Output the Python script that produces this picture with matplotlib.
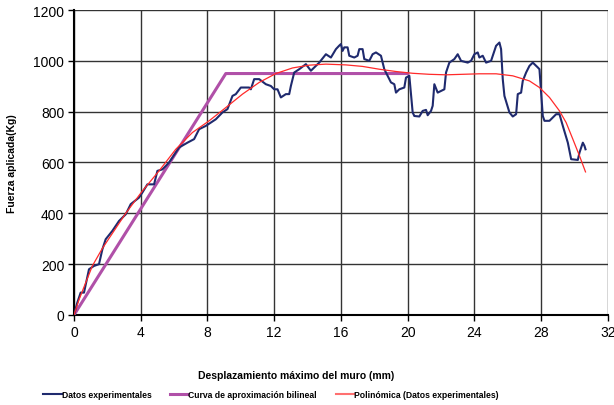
import matplotlib.pyplot as plt

plt.rcParams['font.family'] = ['Liberation Sans', 'DejaVu Sans']

# experimental data (displacement mm, force kg)
expX = [0, 0.2, 0.4, 0.6, 0.9, 1.2, 1.5, 1.7, 1.9, 2.3, 2.7, 3.1, 3.4, 3.9, 4.1, 4.4, 4.8, 5.0, 5.3, 5.7,
        6.3, 6.8, 7.2, 7.5, 7.9, 8.5, 8.9, 9.2, 9.5, 9.7, 10.0, 10.5, 10.6, 10.8, 11.1, 11.5, 11.8, 12.0,
        12.2, 12.4, 12.7, 12.9, 13.0, 13.2, 13.5, 13.9, 14.2, 14.5, 14.7, 15.1, 15.4, 15.7, 15.9, 16.0,
        16.1, 16.2, 16.4, 16.5, 16.8, 17.0, 17.1, 17.3, 17.4, 17.7, 17.9, 18.1, 18.4, 18.6, 18.8, 19.0,
        19.2, 19.3, 19.5, 19.8, 19.9, 20.1, 20.2, 20.3, 20.4, 20.7, 20.9, 21.1, 21.2, 21.4, 21.5, 21.6,
        21.8, 22.2, 22.3, 22.5, 22.8, 23.0, 23.2, 23.6, 23.8, 24.0, 24.2, 24.3, 24.5, 24.7, 25.0, 25.3,
        25.5, 25.6, 25.7, 25.8, 26.1, 26.3, 26.5, 26.6, 26.8, 26.9, 27.1, 27.3, 27.5, 27.8, 27.9, 28.1,
        28.2, 28.5, 28.9, 29.1, 29.3, 29.6, 29.8, 30.2, 30.3, 30.5, 30.6, 30.66]
expY = [0, 49, 88, 88, 180, 193, 200, 258, 298, 331, 370, 396, 436, 462, 482, 514, 514, 567, 573, 600,
        659, 678, 692, 731, 744, 770, 797, 810, 862, 869, 895, 895, 888, 928, 928, 908, 901, 888,
        888, 856, 869, 869, 901, 954, 967, 987, 961, 980, 993, 1026, 1013, 1046, 1060, 1066,
        1039, 1053, 1053, 1020, 1013, 1020, 1046, 1046, 1007, 1000, 1026, 1033, 1020, 967, 941, 915,
        908, 875, 888, 895, 934, 941, 869, 797, 783, 781, 803, 807, 786, 803, 823, 908,
        875, 888, 954, 993, 1007, 1026, 1000, 993, 1000, 1026, 1033, 1013, 1020, 993, 1000, 1059,
        1072, 1046, 928, 862, 797, 781, 790, 869, 875, 921, 954, 980, 993, 974, 967, 783,
        764, 764, 790, 790, 744, 678, 613, 610, 639, 678, 665, 652]

# bilinear approximation
bilX = [0, 9.1, 20.0]
bilY = [0, 950, 950]

# polynomial trendline
polyX = [0, 0.3, 0.6, 1.1, 1.7, 3.1, 4.1, 5.1, 6.1, 7.1, 8.1, 9.1, 10.1, 11.1, 12.1, 13.1, 14.1, 15.1,
         16.3, 17.3, 18.3, 19.3, 20.3, 21.3, 22.3, 23.3, 24.3, 25.3, 26.3, 27.3, 27.9, 28.5, 29.1, 29.5,
         29.9, 30.3, 30.66]
polyY = [0, 60, 110, 193, 262, 400, 488, 567, 652, 718, 764, 816, 869, 915, 950, 972, 983, 987,
         984, 978, 967, 958, 951, 947, 945, 947, 949, 949, 941, 921, 895, 856, 803, 757,
         692, 626, 563]

xTicks = [0, 4, 8, 12, 16, 20, 24, 28, 32]
yTicks = [0, 200, 400, 600, 800, 1000, 1200]

fig = plt.figure(figsize=(6.14, 4.06), dpi=100)
ax = fig.add_axes([0.1205, 0.2217, 0.8695, 0.7512])

ax.plot(expX, expY, color="#1f2a6e", linewidth=1.5, label="Datos experimentales", zorder=4)
ax.plot(bilX, bilY, color="#b050a8", linewidth=2.2, label="Curva de aproximación bilineal", zorder=3)
ax.plot(polyX, polyY, color="#ff2a2a", linewidth=0.9, label="Polinómica (Datos experimentales)", zorder=5)

ax.set_xlim(0, 32)
ax.set_ylim(0, 1200)
ax.set_xticks(xTicks)
ax.set_yticks(yTicks)
ax.tick_params(labelsize=10, direction="out", length=4, width=1, pad=3)
ax.grid(True, color="#333333", linewidth=1)
ax.set_axisbelow(True)
for side in ["top", "right"]:
    ax.spines[side].set_visible(False)
for side in ["left", "bottom"]:
    ax.spines[side].set_linewidth(1.5)

ax.set_ylabel("Fuerza aplicada(Kg)", fontsize=7.5, fontweight="bold", labelpad=12)
fig.text(296 / 614, 1 - 376 / 406, "Desplazamiento máximo del muro (mm)", fontsize=7.5, fontweight="bold",
         ha="center", va="center")

leg = fig.legend(loc="center", bbox_to_anchor=(271 / 614, 1 - 396 / 406), ncol=3, frameon=False,
                 prop={"size": 6.2, "weight": "bold"}, handlelength=2.1, handletextpad=0.0,
                 columnspacing=2.2, borderaxespad=0)
leg.get_lines()[2].set_color("#ff7070")
leg.get_lines()[2].set_linewidth(1.5)

fig.savefig("out.png", dpi=100)
